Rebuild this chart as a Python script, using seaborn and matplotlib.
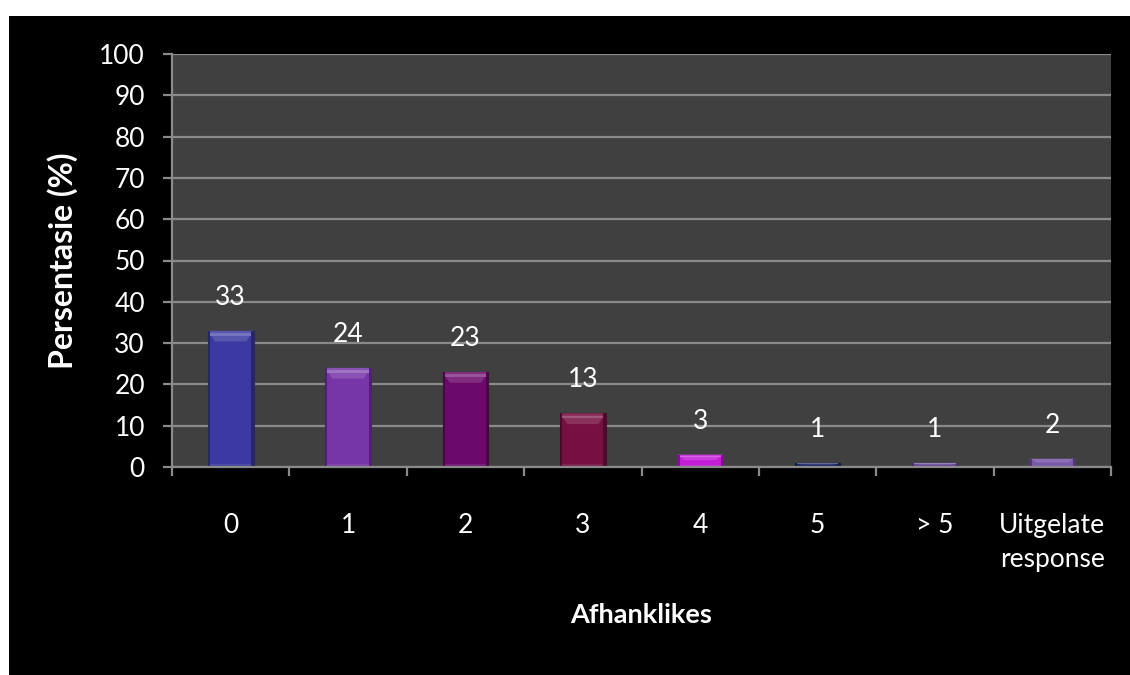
import matplotlib
matplotlib.use("Agg")
import matplotlib.pyplot as plt
import matplotlib.colors as mcolors
from matplotlib.patches import Rectangle, Polygon
import numpy as np
import pandas as pd
import seaborn as sns

# Number of dependants per respondent
categories = ["0", "1", "2", "3", "4", "5", "> 5", "Uitgelate\nresponse"]
percentages = [33, 24, 23, 13, 3, 1, 1, 2]
bar_colors = ["#3a3aa2", "#7636a8", "#6c0a6c", "#761040",
              "#c21ed6", "#1a2866", "#6a4898", "#7a58aa"]
y_ticks = list(range(0, 101, 10))

sns.set_theme(style="dark")
plt.rcParams["font.family"] = ["Lato", "DejaVu Sans"]

W, H = 1130, 675
fig = plt.figure(figsize=(W / 100, H / 100), dpi=100, facecolor="white")
# black panel behind the chart, leaving a white margin at top and left
fig.patches.append(Rectangle((9 / W, 0), 1, (H - 16) / H, transform=fig.transFigure,
                             facecolor="black", edgecolor="none", zorder=-10))

ax = fig.add_axes([172 / W, (H - 467) / H, (1111 - 172) / W, (467 - 54) / H])
ax.set_facecolor("#404040")

df = pd.DataFrame({"cat": categories, "pct": percentages})
sns.barplot(data=df, x="cat", y="pct", hue="cat", palette=bar_colors,
            legend=False, width=0.39, saturation=1, ax=ax, zorder=3)

ax.set_ylim(0, 100)
ax.set_xlim(-0.5, len(categories) - 0.5)
ax.set_yticks(y_ticks)
ax.yaxis.grid(True, color="#8a8a8a", linewidth=1.6, zorder=0)
ax.xaxis.grid(False)

# bevelled look on each bar
bars = list(ax.patches)
for patch, col, val in zip(bars, bar_colors, percentages):
    x0, y0 = patch.get_x(), patch.get_y()
    w, h = patch.get_width(), patch.get_height()
    base = np.array(mcolors.to_rgb(col))
    light = base + (1 - base) * 0.14
    lighter = base + (1 - base) * 0.30
    dark = base * 0.65
    patch.set_edgecolor(mcolors.to_hex(dark))
    patch.set_linewidth(0.8)
    band = min(2.6, h * 0.45)
    inset = 0.16 * w
    ax.add_patch(Polygon([(x0, y0 + h), (x0 + w, y0 + h),
                          (x0 + w - inset, y0 + h - band), (x0 + inset, y0 + h - band)],
                         closed=True, facecolor=light, edgecolor="none", zorder=4))
    ax.add_patch(Rectangle((x0 + 0.04 * w, y0 + h - band * 0.45), w * 0.92, band * 0.22,
                           facecolor=lighter, edgecolor="none", zorder=4))
    side = 0.05 * w
    ax.add_patch(Rectangle((x0, y0), side, h, facecolor=dark, edgecolor="none", zorder=4))
    ax.add_patch(Rectangle((x0 + w - side, y0), side, h, facecolor=dark,
                           edgecolor="none", zorder=4))
    bot = min(0.8, h * 0.15)
    ax.add_patch(Rectangle((x0 + side, y0), w - 2 * side, bot, facecolor=light,
                           alpha=0.6, edgecolor="none", zorder=4))
    ax.annotate(f"{val}", (x0 + w / 2, y0 + h), xytext=(0, 24),
                textcoords="offset points", ha="center", va="center",
                color="white", fontsize=19, zorder=5)

# spines and ticks
for s in ["top", "right"]:
    ax.spines[s].set_visible(False)
for s in ["left", "bottom"]:
    ax.spines[s].set_visible(True)
    ax.spines[s].set_color("#8a8a8a")
    ax.spines[s].set_linewidth(1.6)
    ax.spines[s].set_zorder(6)

ax.tick_params(axis="y", which="major", left=True, length=6.5, width=1.6,
               color="#8a8a8a", labelcolor="white", labelsize=19, pad=13)
ax.set_xticks(np.arange(-0.5, len(categories), 1.0), minor=True)
ax.tick_params(axis="x", which="minor", bottom=True, length=6.5, width=1.6,
               color="#8a8a8a")
ax.tick_params(axis="x", which="major", bottom=False, labelcolor="white",
               labelsize=19, pad=27)
for lbl in ax.get_xticklabels():
    lbl.set_linespacing(1.45)

ax.set_ylabel("Persentasie (%)", color="white", fontsize=23, fontweight="bold")
ax.yaxis.set_label_coords(-0.100, 0.5)
ax.set_xlabel("Afhanklikes", color="white", fontsize=19.5, fontweight="bold")
ax.xaxis.set_label_coords(0.5, -0.33)

fig.savefig("out.png", dpi=100, facecolor=fig.get_facecolor())
